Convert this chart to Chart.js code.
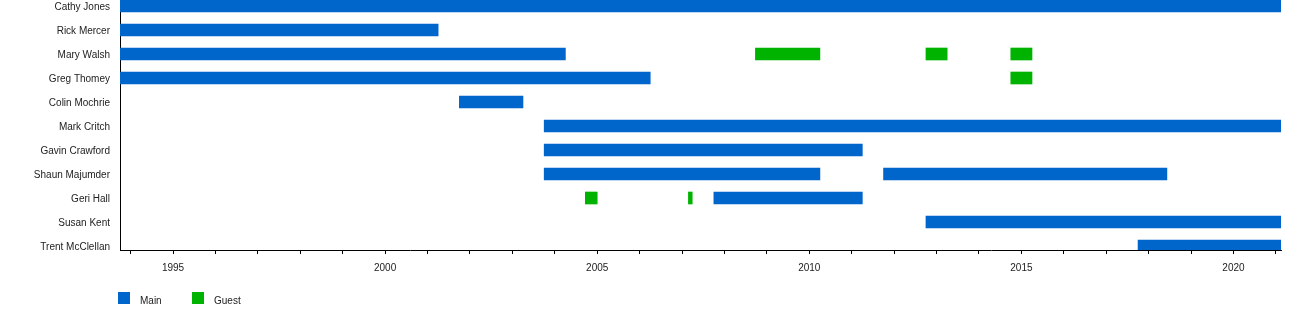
<!DOCTYPE html>
<html>
<head>
<meta charset="utf-8">
<script src="https://cdn.jsdelivr.net/npm/chart.js@4"></script>
<style>
  html, body { margin: 0; padding: 0; background: #fff; }
  #wrap { position: relative; width: 1300px; height: 310px; }
  #legend { position: absolute; left: 0; top: 0; font-family: "Liberation Sans", Arial, sans-serif; font-size: 10px; color: #222; }
  .lg-box { position: absolute; width: 12px; height: 12px; top: 292px; }
  .lg-txt { position: absolute; top: 295px; line-height: 12px; white-space: nowrap; }
</style>
</head>
<body>
<div id="wrap">
  <canvas id="c" width="1300" height="310"></canvas>
  <div id="legend"></div>
</div>
<script>
// Cast members (rows, top to bottom)
const members = ["Cathy Jones", "Rick Mercer", "Mary Walsh", "Greg Thomey", "Colin Mochrie", "Mark Critch",
                 "Gavin Crawford", "Shaun Majumder", "Geri Hall", "Susan Kent", "Trent McClellan"];

// Period of the timeline (fractional years)
const periodStart = 1993.75;
const periodEnd = 2021.12;

// Main cast spans: [member index, start, end]
const mainSpans = [
  [0, 1993.75, 2021.12],
  [1, 1993.75, 2001.25],
  [2, 1993.75, 2004.25],
  [3, 1993.75, 2006.25],
  [4, 2001.75, 2003.25],
  [5, 2003.75, 2021.12],
  [6, 2003.75, 2011.25],
  [7, 2003.75, 2010.25],
  [7, 2011.75, 2018.43],
  [8, 2007.75, 2011.25],
  [9, 2012.75, 2021.12],
  [10, 2017.75, 2021.12]
];

// Guest spans: [member index, start, end]
const guestSpans = [
  [2, 2008.73, 2010.25],
  [2, 2012.75, 2013.25],
  [2, 2014.75, 2015.25],
  [3, 2014.75, 2015.25],
  [8, 2004.72, 2005.0],
  [8, 2007.15, 2007.24]
];

// Year labels shown on the axis
const labeledYears = [1995, 2000, 2005, 2010, 2015, 2020];

const seriesNames = ["Main", "Guest"];
const seriesColors = ["#0066CC", "#00B300"];

const toPoints = spans => spans.map(s => ({ y: s[0], x: [s[1], s[2]] }));

const FONT = { family: "'Liberation Sans', Arial, sans-serif", size: 10 };

new Chart(document.getElementById('c'), {
  type: 'bar',
  data: {
    datasets: [
      { label: seriesNames[0], data: toPoints(mainSpans), backgroundColor: seriesColors[0], barThickness: 12, grouped: false, borderWidth: 0 },
      { label: seriesNames[1], data: toPoints(guestSpans), backgroundColor: seriesColors[1], barThickness: 12, grouped: false, borderWidth: 0 }
    ]
  },
  options: {
    indexAxis: 'y',
    responsive: false,
    animation: false,
    events: [],
    layout: { padding: { left: 0, right: 19, top: 0, bottom: 0 } },
    plugins: { legend: { display: false }, tooltip: { enabled: false } },
    scales: {
      y: {
        type: 'linear',
        reverse: true,
        offset: false,
        min: -0.25,
        max: members.length - 1 + 1 / 6,
        afterBuildTicks: s => { s.ticks = members.map((_, i) => ({ value: i })); },
        afterFit: s => { s.width = 120; s.paddingTop = 0; s.paddingBottom = 0; },
        ticks: {
          font: FONT, color: '#222', padding: 10, labelOffset: 1.5,
          callback: v => members[v] !== undefined ? members[v] : ''
        },
        grid: { display: false, drawTicks: false, offset: false },
        border: { display: true, color: '#000', width: 1 }
      },
      x: {
        type: 'linear',
        offset: false,
        min: periodStart,
        max: periodEnd,
        afterBuildTicks: s => {
          const t = [];
          for (let yr = Math.ceil(periodStart); yr <= Math.floor(periodEnd); yr++) t.push({ value: yr });
          s.ticks = t;
        },
        afterFit: s => { s.height = 60; s.paddingLeft = 0; s.paddingRight = 0; },
        ticks: {
          font: FONT, color: '#222', padding: 8, maxRotation: 0, autoSkip: false,
          callback: v => labeledYears.includes(v) ? String(v) : ''
        },
        grid: { drawOnChartArea: false, drawTicks: true, tickLength: 4, color: '#000', lineWidth: 1 },
        border: { display: true, color: '#000', width: 1 }
      }
    }
  }
});

// Legend
const legend = document.getElementById('legend');
const legendX = [118, 192];
seriesNames.forEach((n, i) => {
  const b = document.createElement('div');
  b.className = 'lg-box';
  b.style.left = legendX[i] + 'px';
  b.style.background = seriesColors[i];
  legend.appendChild(b);
  const t = document.createElement('div');
  t.className = 'lg-txt';
  t.style.left = (legendX[i] + 22) + 'px';
  t.textContent = n;
  legend.appendChild(t);
});
</script>
</body>
</html>
